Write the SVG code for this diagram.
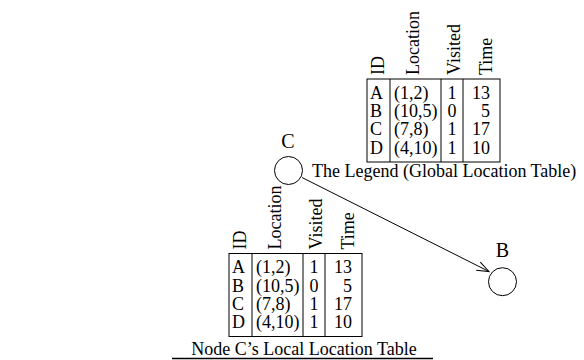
<svg xmlns="http://www.w3.org/2000/svg" width="584" height="360" viewBox="0 0 584 360">
<defs>
<style>
text{font-family:"Liberation Serif","Times New Roman",serif;font-size:18px;fill:#000}
.lbl{font-size:20px}
.mid{text-anchor:middle}
.end{text-anchor:end}
.ln{stroke:#000;stroke-width:1;fill:none}
.nd{stroke:#000;stroke-width:1;fill:#fff}
</style>
<marker id="arr" markerWidth="16" markerHeight="12" refX="13" refY="6" orient="auto" markerUnits="userSpaceOnUse">
<path d="M1,1.5 L13,6 L1,10.5" fill="none" stroke="#000" stroke-width="1"/>
</marker>
</defs>
<rect width="584" height="360" fill="#fff"/>

<g id="legend-table" transform="translate(367,79)">
<rect class="ln" x="0" y="0" width="133" height="83"/>
<line class="ln" x1="23" y1="0" x2="23" y2="83"/>
<line class="ln" x1="74" y1="0" x2="74" y2="83"/>
<line class="ln" x1="96" y1="0" x2="96" y2="83"/>
<text transform="translate(17,-4) rotate(-90)">ID</text>
<text transform="translate(52,-4) rotate(-90)">Location</text>
<text transform="translate(93,-4) rotate(-90)">Visited</text>
<text transform="translate(124.5,-4) rotate(-90)">Time</text>
<text x="3" y="19.7">A</text><text x="27" y="19.7">(1,2)</text><text class="mid" x="85" y="19.7">1</text><text class="end" x="123" y="19.7">13</text>
<text x="3" y="38">B</text><text x="27" y="38">(10,5)</text><text class="mid" x="85" y="38">0</text><text class="end" x="123" y="38">5</text>
<text x="3" y="56.3">C</text><text x="27" y="56.3">(7,8)</text><text class="mid" x="85" y="56.3">1</text><text class="end" x="123" y="56.3">17</text>
<text x="3" y="74.6">D</text><text x="27" y="74.6">(4,10)</text><text class="mid" x="85" y="74.6">1</text><text class="end" x="123" y="74.6">10</text>
<text x="-55" y="98">The Legend (Global Location Table)</text>
</g>

<g id="local-table" transform="translate(229,253.5)">
<rect class="ln" x="0" y="0" width="133" height="83"/>
<line class="ln" x1="23" y1="0" x2="23" y2="83"/>
<line class="ln" x1="74" y1="0" x2="74" y2="83"/>
<line class="ln" x1="96" y1="0" x2="96" y2="83"/>
<text transform="translate(17,-4) rotate(-90)">ID</text>
<text transform="translate(52,-4) rotate(-90)">Location</text>
<text transform="translate(93,-4) rotate(-90)">Visited</text>
<text transform="translate(124.5,-4) rotate(-90)">Time</text>
<text x="3" y="19.7">A</text><text x="27" y="19.7">(1,2)</text><text class="mid" x="85" y="19.7">1</text><text class="end" x="123" y="19.7">13</text>
<text x="3" y="38">B</text><text x="27" y="38">(10,5)</text><text class="mid" x="85" y="38">0</text><text class="end" x="123" y="38">5</text>
<text x="3" y="56.3">C</text><text x="27" y="56.3">(7,8)</text><text class="mid" x="85" y="56.3">1</text><text class="end" x="123" y="56.3">17</text>
<text x="3" y="74.6">D</text><text x="27" y="74.6">(4,10)</text><text class="mid" x="85" y="74.6">1</text><text class="end" x="123" y="74.6">10</text>
<text class="mid" x="75" y="101.5">Node C’s Local Location Table</text>
</g>

<line id="baseline-rule" x1="172" y1="358.5" x2="433" y2="358.5" stroke="#000" stroke-width="1.5"/>

<g id="connectors">
<line class="ln" x1="302" y1="177.5" x2="489" y2="271.5" marker-end="url(#arr)"/>
</g>

<g id="node-C">
<circle class="nd" cx="288.5" cy="170.5" r="14"/>
<text class="lbl mid" x="288" y="148">C</text>
</g>

<g id="node-B">
<circle class="nd" cx="502.5" cy="281.7" r="14"/>
<text class="lbl mid" x="502.5" y="256.7">B</text>
</g>
</svg>
